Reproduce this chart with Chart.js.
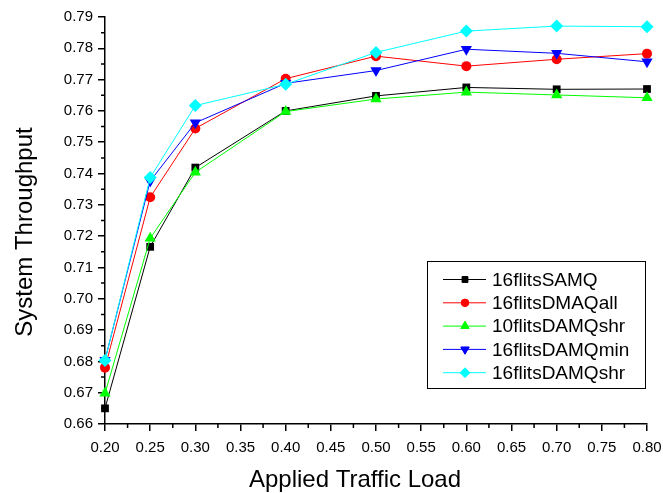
<!DOCTYPE html>
<html>
<head>
<meta charset="utf-8">
<title>System Throughput</title>
<script src="https://cdn.jsdelivr.net/npm/chart.js@4.4.1/dist/chart.umd.min.js"></script>
<style>
  body { margin: 0; background: #ffffff; }
  #chart { display: block; }
</style>
</head>
<body>
<canvas id="chart" width="663" height="493"></canvas>
<script>
// applied traffic load (x)
const loads = [0.20, 0.25, 0.30, 0.40, 0.50, 0.60, 0.70, 0.80];

// system throughput per configuration
const samq16     = [0.6650, 0.7166, 0.7419, 0.7600, 0.7648, 0.7675, 0.7669, 0.7670];
const dmaqAll16  = [0.6780, 0.7324, 0.7544, 0.7703, 0.7775, 0.7743, 0.7765, 0.7783];
const damqShr10  = [0.6698, 0.7193, 0.7404, 0.7598, 0.7638, 0.7660, 0.7651, 0.7642];
const damqMin16  = [0.6804, 0.7376, 0.7562, 0.7688, 0.7729, 0.7797, 0.7784, 0.7757];
const damqShr16  = [0.6803, 0.7387, 0.7617, 0.7685, 0.7787, 0.7855, 0.7871, 0.7869];

const seriesNames = ['16flitsSAMQ', '16flitsDMAQall', '10flitsDAMQshr', '16flitsDAMQmin', '16flitsDAMQshr'];
const seriesValues = [samq16, dmaqAll16, damqShr10, damqMin16, damqShr16];

const xTitle = 'Applied Traffic Load';
const yTitle = 'System Throughput';

const colors = ['#000000', '#ff0000', '#00ff00', '#0000ff', '#00ffff'];
const styles = ['rect', 'circle', 'triangle', 'triangle', 'rectRot'];
const rotations = [0, 0, 0, 180, 0];
const radii = [5.5, 5, 6.5, 6.5, 6.5];

const FONT = "'Liberation Sans', Arial, sans-serif";


function make_points (values){
    const points = [];
    for (let i = 0; i < loads.length; i++){
        points.push({x: loads[i], y: values[i]});
    }
    return points;
}


// minor ticks half way between the major ones, axis titles, boxed legend
const extrasPlugin = {
    id: 'extras',
    afterDraw(chart) {
        const ctx = chart.ctx;
        const xs = chart.scales.x;
        const ys = chart.scales.y;
        const area = chart.chartArea;

        ctx.save();
        ctx.strokeStyle = '#000';
        ctx.lineWidth = 1.5;
        ctx.beginPath();
        for (let i = 0; i < xs.ticks.length - 1; i++){
            const px = xs.getPixelForValue((xs.ticks[i].value + xs.ticks[i+1].value) / 2);
            ctx.moveTo(px, area.bottom);
            ctx.lineTo(px, area.bottom + 4);
        }
        for (let i = 0; i < ys.ticks.length - 1; i++){
            const py = ys.getPixelForValue((ys.ticks[i].value + ys.ticks[i+1].value) / 2);
            ctx.moveTo(area.left, py);
            ctx.lineTo(area.left - 4, py);
        }
        ctx.stroke();

        // axis titles (sit a bit off-centre in the original)
        ctx.fillStyle = '#000';
        ctx.font = '24px ' + FONT;
        ctx.textAlign = 'center';
        ctx.textBaseline = 'middle';
        ctx.fillText(xTitle, 355, 480);
        ctx.save();
        ctx.translate(25, 232);
        ctx.rotate(-Math.PI / 2);
        ctx.fillText(yTitle, 0, 0);
        ctx.restore();

        // legend box
        ctx.lineWidth = 1;
        ctx.strokeStyle = '#000';
        ctx.strokeRect(427.5, 261.5, 218, 127);
        ctx.font = '19px ' + FONT;
        ctx.textAlign = 'left';
        for (let i = 0; i < seriesNames.length; i++){
            const y = 279.5 + i * 23.3;
            ctx.strokeStyle = colors[i];
            ctx.lineWidth = 1;
            ctx.beginPath();
            ctx.moveTo(443, y);
            ctx.lineTo(486, y);
            ctx.stroke();
            ctx.fillStyle = colors[i];
            Chart.helpers.drawPoint(ctx, {
                pointStyle: styles[i],
                rotation: rotations[i],
                radius: radii[i] * 0.75,
                borderWidth: 1
            }, 465, y);
            ctx.fill();
            ctx.fillStyle = '#000';
            ctx.fillText(seriesNames[i], 492, y + 1);
        }
        ctx.restore();
    }
};


const datasets = seriesNames.map(function (name, i){
    return {
        label: name,
        data: make_points(seriesValues[i]),
        borderColor: colors[i],
        backgroundColor: colors[i],
        borderWidth: 1,
        pointStyle: styles[i],
        rotation: rotations[i],
        pointRadius: radii[i],
        pointHoverRadius: radii[i],
        pointBorderWidth: 0,
        tension: 0,
        clip: false,
        order: seriesNames.length - i   // later series drawn on top
    };
});

const ctx = document.getElementById('chart').getContext('2d');

const config = {
    type: 'line',
    data: { datasets: datasets },
    plugins: [extrasPlugin],
    options: {
        responsive: false,
        animation: false,
        layout: { padding: { top: 17, right: 16, left: 0, bottom: 0 } },
        scales: {
            x: {
                type: 'linear',
                min: 0.2,
                max: 0.8,
                afterFit: function (scale) {
                    scale.height = 69;
                    scale.paddingLeft = 0;
                    scale.paddingRight = 0;
                },
                border: { display: true, color: '#000', width: 1.5 },
                grid: { drawOnChartArea: false, drawTicks: true, tickLength: 7, color: '#000', lineWidth: 1.5 },
                ticks: {
                    stepSize: 0.05,
                    padding: 8,
                    maxRotation: 0,
                    color: '#000',
                    font: { family: FONT, size: 15 },
                    callback: function (value) { return value.toFixed(2); }
                }
            },
            y: {
                min: 0.66,
                max: 0.79,
                afterFit: function (scale) { scale.width = 105; },
                border: { display: true, color: '#000', width: 1.5 },
                grid: { drawOnChartArea: false, drawTicks: true, tickLength: 7, color: '#000', lineWidth: 1.5 },
                ticks: {
                    stepSize: 0.01,
                    padding: 5,
                    color: '#000',
                    font: { family: FONT, size: 15 },
                    callback: function (value) { return value.toFixed(2); }
                }
            }
        },
        plugins: {
            legend: { display: false },
            tooltip: { enabled: false }
        }
    }
};

const chart = new Chart(ctx, config);
</script>
</body>
</html>
